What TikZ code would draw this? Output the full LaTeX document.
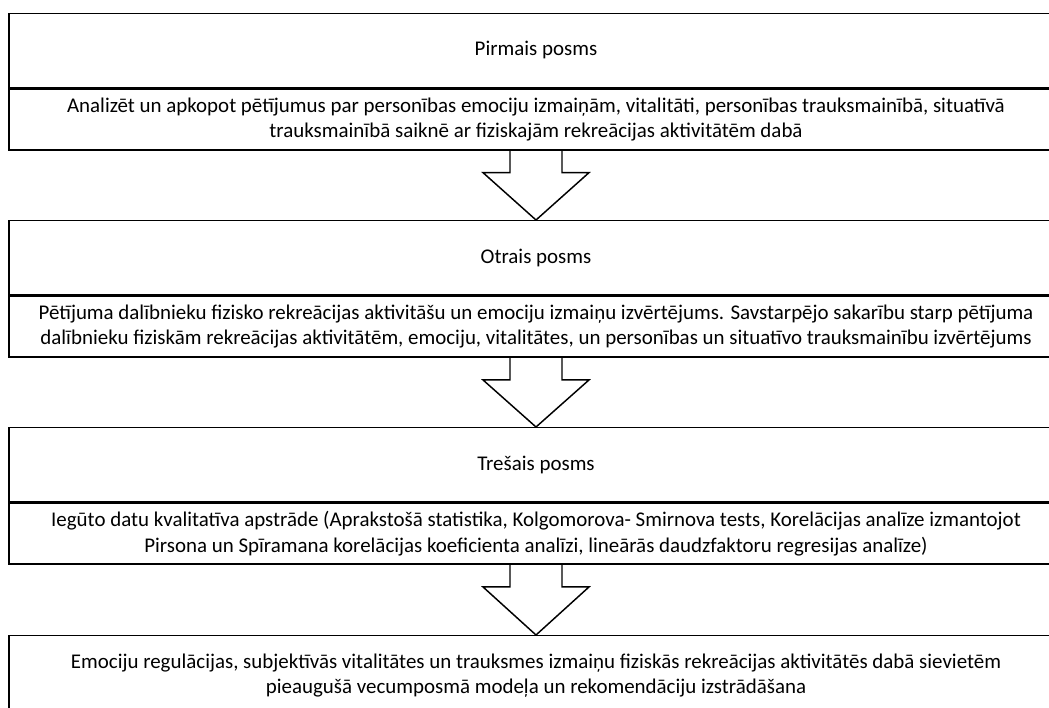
\documentclass[tikz,border=0pt]{standalone}
\usepackage{fontspec}
\setmainfont{Carlito}
\usetikzlibrary{calc}
\tikzset{
  posms/.style={draw, line width=1.1pt, minimum width=790.5pt, inner sep=0pt, align=center, font=\fontsize{15.7}{19.2}\selectfont},
  virsraksts/.style={posms, minimum height=55.5pt},
  apraksts/.style={posms, minimum height=45.75pt},
  bulta/.style={line width=1.1pt, line join=miter}
}
\begin{document}
\begin{tikzpicture}[x=0.75pt,y=-0.75pt]
\useasboundingbox (0,0) rectangle (1049,707);
\clip (0,0) rectangle (1049,707);
% posmi
\node[virsraksts, anchor=north] (h1) at (536,12.7) {Pirmais posms};
\node[apraksts, anchor=north] (b1) at (h1.south) {Analizēt un apkopot pētījumus par personības emociju izmaiņām, vitalitāti, personības trauksmainībā, situatīvā\\ trauksmainībā saiknē ar fiziskajām rekreācijas aktivitātēm dabā};
\node[virsraksts, anchor=north] (h2) at (536,220) {Otrais posms};
\node[apraksts, anchor=north] (b2) at (h2.south) {Pētījuma dalībnieku fizisko rekreācijas aktivitāšu un emociju izmaiņu izvērtējums. Savstarpējo sakarību starp pētījuma\\ dalībnieku fiziskām rekreācijas aktivitātēm, emociju, vitalitātes, un personības un situatīvo trauksmainību izvērtējums};
\node[virsraksts, anchor=north] (h3) at (536,427) {Trešais posms};
\node[apraksts, anchor=north] (b3) at (h3.south) {Iegūto datu kvalitatīva apstrāde (Aprakstošā statistika, Kolgomorova- Smirnova tests, Korelācijas analīze izmantojot\\ Pirsona un Spīramana korelācijas koeficienta analīzi, lineārās daudzfaktoru regresijas analīze)};
\node[posms, minimum height=60pt, anchor=north] (b4) at (536,635) {Emociju regulācijas, subjektīvās vitalitātes un trauksmes izmaiņu fiziskās rekreācijas aktivitātēs dabā sievietēm\\ pieaugušā vecumposmā modeļa un rekomendāciju izstrādāšana};
% bultas
\foreach \a/\b in {b1/h2,b2/h3,b3/b4}
  \draw[bulta] ($(\a.south)+(-26,0)$) -- ++(0,22) -- ++(-27,0) -- (\b.north)
    -- ($(\a.south)+(53,22)$) -- ++(-27,0) -- ++(0,-22);
\end{tikzpicture}
\end{document}
